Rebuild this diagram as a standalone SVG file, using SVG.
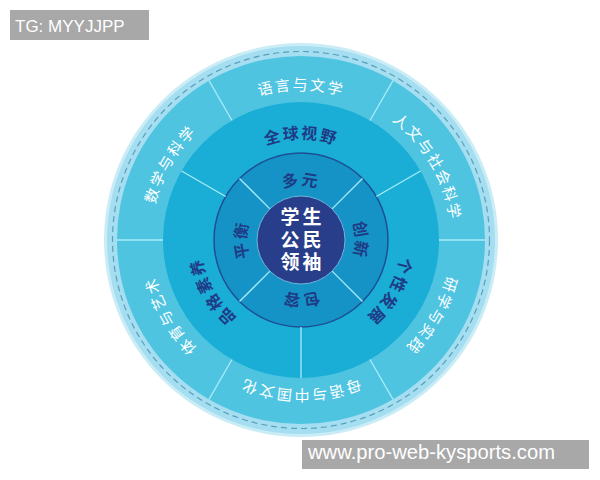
<svg xmlns="http://www.w3.org/2000/svg" xmlns:xlink="http://www.w3.org/1999/xlink" width="600" height="480" viewBox="0 0 600 480">
  <style>
    .div { stroke: #a8ecf8; stroke-width: 1.3; fill: none; }
    .outer-t { font-family: "Noto Sans CJK SC", "Noto Sans", sans-serif; font-size: 15px; fill: #ffffff; letter-spacing: 2px; }
    .mid-t { font-family: "Noto Sans CJK SC", "Noto Sans", sans-serif; font-size: 16px; font-weight: 700; fill: #1f3b85; letter-spacing: 2px; }
    .in-t { font-family: "Noto Sans CJK SC", "Noto Sans", sans-serif; font-size: 16px; font-weight: 700; fill: #1f3b85; letter-spacing: 2px; }
    .c-t { font-family: "Noto Sans CJK SC", "Noto Sans", sans-serif; font-size: 19px; font-weight: 700; fill: #ffffff; letter-spacing: 3px; }
    .wm { font-family: "Liberation Sans", Arial, sans-serif; fill: #ffffff; }
  </style>
  <defs>
    <path id="pOuter" d="M 151,240 A 150 150 0 1 1 451,240 A 150 150 0 1 1 151,240"/>
    <path id="pMid" d="M 200,240 A 101 101 0 1 1 402,240 A 101 101 0 1 1 200,240"/>
    <path id="pIn" d="M 262.46,278.54 A 54.5 54.5 0 1 1 339.54,201.46 A 54.5 54.5 0 1 1 262.46,278.54"/>
  </defs>
  <rect width="600" height="480" fill="#ffffff"/>

  <g id="rings">
    <circle cx="301" cy="240" r="197" fill="#c9ecf6"/>
    <circle cx="301" cy="240" r="194" fill="#a4def0"/>
    <circle cx="301" cy="240" r="188.5" fill="none" stroke="#5a9fbb" stroke-width="1.2" stroke-dasharray="6 4"/>
    <circle cx="301" cy="240" r="184" fill="#4ec4e1"/>
    <circle cx="301" cy="240" r="138" fill="#1aadd6"/>
    <circle cx="301" cy="240" r="87" fill="#1593c6" stroke="#1d4f94" stroke-width="1.5"/>
  </g>

  <g id="connectors">
    <line class="div" x1="439" y1="240" x2="485" y2="240"/>
    <line class="div" x1="163" y1="240" x2="117" y2="240"/>
    <line class="div" x1="370" y1="120.5" x2="393" y2="80.7"/>
    <line class="div" x1="232" y1="120.5" x2="209" y2="80.7"/>
    <line class="div" x1="232" y1="359.5" x2="209" y2="399.3"/>
    <line class="div" x1="370" y1="359.5" x2="393" y2="399.3"/>
    <line class="div" x1="376.3" y1="196.5" x2="420.5" y2="171"/>
    <line class="div" x1="225.7" y1="196.5" x2="181.5" y2="171"/>
    <line class="div" x1="301" y1="327" x2="301" y2="378"/>
    <line class="div" x1="332.1" y1="208.9" x2="362.5" y2="178.5"/>
    <line class="div" x1="269.9" y1="208.9" x2="239.5" y2="178.5"/>
    <line class="div" x1="269.9" y1="271.1" x2="239.5" y2="301.5"/>
    <line class="div" x1="332.1" y1="271.1" x2="362.5" y2="301.5"/>
  </g>

  <g id="outer-labels">
    <g id="n-yuyan"><text class="outer-t" text-anchor="middle"><textPath xlink:href="#pOuter" href="#pOuter" startOffset="25%">语言与文学</textPath></text></g>
    <g id="n-renwen"><text class="outer-t" text-anchor="middle"><textPath xlink:href="#pOuter" href="#pOuter" startOffset="41.67%">人文与社会科学</textPath></text></g>
    <g id="n-yanxue"><text class="outer-t" text-anchor="middle"><textPath xlink:href="#pOuter" href="#pOuter" startOffset="58.33%">研学与实践</textPath></text></g>
    <g id="n-muyu"><text class="outer-t" text-anchor="middle"><textPath xlink:href="#pOuter" href="#pOuter" startOffset="75%">母语与中国文化</textPath></text></g>
    <g id="n-tiyu"><text class="outer-t" text-anchor="middle"><textPath xlink:href="#pOuter" href="#pOuter" startOffset="91.67%">体育与艺术</textPath></text></g>
    <g id="n-shuxue"><text class="outer-t" text-anchor="middle"><textPath xlink:href="#pOuter" href="#pOuter" startOffset="8.33%">数学与科学</textPath></text></g>
  </g>

  <g id="middle-labels">
    <g id="n-quanqiu"><text class="mid-t" text-anchor="middle"><textPath xlink:href="#pMid" href="#pMid" startOffset="25%">全球视野</textPath></text></g>
    <g id="n-gexing"><text class="mid-t" text-anchor="middle"><textPath xlink:href="#pMid" href="#pMid" startOffset="58.33%">个性发展</textPath></text></g>
    <g id="n-pinge"><text class="mid-t" text-anchor="middle"><textPath xlink:href="#pMid" href="#pMid" startOffset="91.67%">品格素养</textPath></text></g>
  </g>

  <g id="inner-labels">
    <g id="n-duoyuan"><text class="in-t" text-anchor="middle"><textPath xlink:href="#pIn" href="#pIn" startOffset="37.5%">多元</textPath></text></g>
    <g id="n-chuangxin"><text class="in-t" text-anchor="middle"><textPath xlink:href="#pIn" href="#pIn" startOffset="62.5%">创新</textPath></text></g>
    <g id="n-baorong"><text class="in-t" text-anchor="middle"><textPath xlink:href="#pIn" href="#pIn" startOffset="87.5%">包容</textPath></text></g>
    <g id="n-pingheng"><text class="in-t" text-anchor="middle"><textPath xlink:href="#pIn" href="#pIn" startOffset="12.5%">平衡</textPath></text></g>
  </g>

  <g id="n-center">
    <circle cx="301" cy="240" r="44" fill="#283e8a" stroke="#6fb5dc" stroke-width="1"/>
    <text class="c-t" x="302.5" y="224" text-anchor="middle">学生</text>
    <text class="c-t" x="302.5" y="247" text-anchor="middle">公民</text>
    <text class="c-t" x="302.5" y="269" text-anchor="middle">领袖</text>
  </g>

  <g id="wm-top">
    <rect x="10" y="10" width="139" height="30" fill="#a8a8a8"/>
    <text class="wm" x="15" y="32" font-size="17">TG: MYYJJPP</text>
  </g>
  <g id="wm-bottom">
    <rect x="302" y="440" width="287" height="29" fill="#a8a8a8"/>
    <text class="wm" x="308" y="459" font-size="20" textLength="247" lengthAdjust="spacingAndGlyphs">www.pro-web-kysports.com</text>
  </g>
</svg>
